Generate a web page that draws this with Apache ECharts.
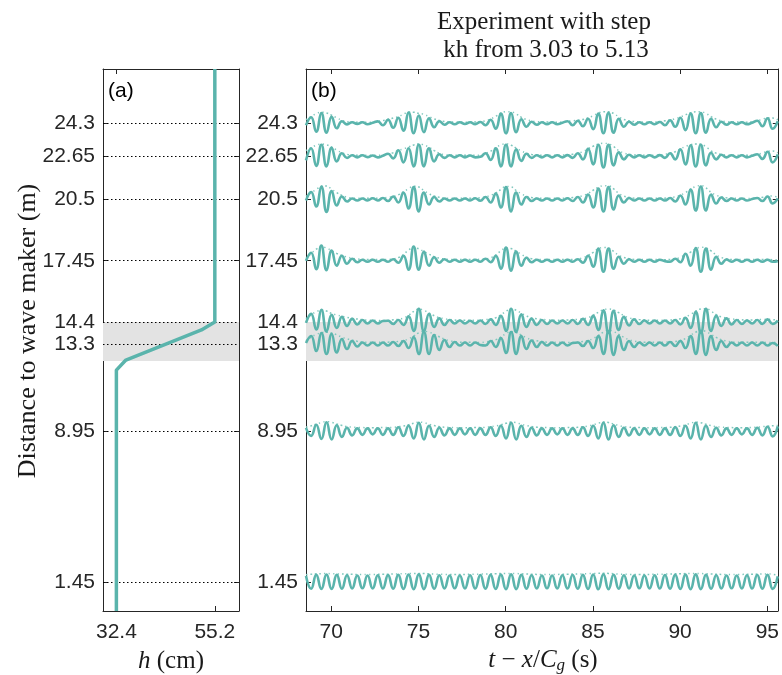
<!DOCTYPE html>
<html><head><meta charset="utf-8">
<script src="https://cdn.jsdelivr.net/npm/echarts@6/dist/echarts.min.js"></script>
<style>html,body{margin:0;padding:0;background:#fff}#c{width:782px;height:675px}</style>
</head><body><div id="c"></div>
<script>
// ---------- data ----------
const distanceTicks = [1.45, 8.95, 13.3, 14.4, 17.45, 20.5, 22.65, 24.3];
const distanceTickLabels = ['1.45', '8.95', '13.3', '14.4', '17.45', '20.5', '22.65', '24.3'];
const timeTicks = [70, 75, 80, 85, 90, 95];
const depthTicks = [32.4, 55.2];
const depthProfileH = [32.4, 32.4, 34.6, 52.1, 55.2, 55.2];   // cm
const depthProfileX = [0, 12.0, 12.5, 14.0, 14.4, 27];        // m
const stepZone = [12.45, 14.4];                                // m
const sampleStart = 68.55;   // s
const sampleStep = 0.294;    // s (half carrier period, samples at crests/troughs)
const displayScale = 0.5;    // m of vertical offset per cm of surface elevation

const eta_24_3 = [-0.2, 0.6, -0.85, 1.0, -0.95, 0.65, -0.5, 0.2, -0.12, 0.1,
 -0.08, 0.1, -0.1, 0.05, 0.18, -0.2, 0.35, -0.45, 0.55, -0.75,
 1.05, -1.0, 0.75, -0.9, 0.5, -0.4, 0.2, -0.15, 0.1, -0.1,
 0.1, -0.08, 0.1, -0.1, 0.12, -0.2, 0.35, -0.55, 0.95, -1.0,
 1.0, -0.9, 0.4, -0.35, 0.15, -0.15, 0.1, -0.1, 0.1, -0.1,
 0.05, 0.2, -0.2, 0.25, -0.3, 0.45, -0.6, 0.95, -1.0, 1.0,
 -0.95, 0.45, -0.35, 0.15, -0.15, 0.1, -0.1, 0.1, -0.1, 0.12,
 -0.2, 0.3, -0.35, 0.55, -0.7, 0.95, -1.0, 1.0, -0.95, 0.45,
 -0.4, 0.15, -0.15, 0.1, -0.1, 0.1, -0.1, 0.05, 0.25, -0.3,
 0.5, -0.55, 0.2];
const eta_22_65 = [-0.4, 0.8, -0.95, 1.15, -1.0, 0.85, -0.5, 0.3, -0.15, 0.1,
 -0.1, 0.1, -0.08, 0.08, -0.1, 0.05, 0.25, -0.2, 0.6, -0.6,
 0.8, -1.0, 1.15, -1.0, 0.8, -0.5, 0.2, -0.15, 0.1, -0.1,
 0.1, -0.1, 0.08, -0.1, -0.05, 0.3, -0.35, 0.8, -1.0, 1.15,
 -1.0, 0.7, -0.45, 0.25, -0.15, 0.1, -0.1, 0.1, -0.1, 0.1,
 -0.1, 0.12, -0.15, 0.3, -0.3, 0.75, -0.8, 1.15, -1.1, 1.15,
 -0.9, 0.4, -0.3, 0.15, -0.1, 0.1, -0.1, 0.1, -0.1, 0.12,
 -0.15, 0.3, -0.3, 0.7, -0.8, 1.1, -1.0, 1.15, -0.9, 0.35,
 -0.3, 0.15, -0.1, 0.1, -0.1, 0.1, -0.1, 0.05, 0.2, -0.25,
 0.45, -0.6, 0.2];
const eta_20_5 = [-0.1, 0.75, -0.7, 1.3, -1.25, 0.85, -0.6, 0.3, -0.2, 0.1,
 -0.1, 0.1, -0.1, 0.12, -0.1, 0.15, -0.15, 0.3, -0.3, 0.7,
 -0.9, 1.25, -1.2, 0.7, -0.5, 0.25, -0.2, 0.1, -0.1, 0.1,
 -0.1, 0.1, -0.1, 0.12, -0.12, 0.25, -0.3, 0.6, -0.8, 1.25,
 -1.2, 0.7, -0.5, 0.25, -0.15, 0.1, -0.1, 0.1, -0.1, 0.1,
 -0.1, 0.12, -0.15, 0.25, -0.3, 0.5, -0.8, 1.1, -1.2, 1.25,
 -1.0, 0.4, -0.3, 0.15, -0.1, 0.1, -0.1, 0.1, -0.1, 0.1,
 -0.1, 0.15, -0.2, 0.4, -0.5, 1.0, -1.1, 1.3, -1.1, 0.5,
 -0.4, 0.2, -0.15, 0.1, -0.1, 0.1, -0.1, 0.05, 0.15, -0.15,
 0.3, -0.4, 0.1];
const eta_17_45 = [0.0, 0.8, -0.85, 1.5, -0.95, 1.0, -0.5, 0.5, -0.3, 0.2,
 -0.15, 0.1, -0.1, 0.1, -0.1, 0.1, -0.1, 0.15, -0.2, 0.5,
 -0.9, 1.4, -0.9, 0.9, -0.5, 0.35, -0.2, 0.15, -0.1, 0.1,
 -0.1, 0.1, -0.1, 0.1, -0.1, 0.2, -0.15, 0.5, -0.8, 1.3,
 -1.0, 0.9, -0.5, 0.3, -0.15, 0.1, -0.1, 0.1, -0.1, 0.1,
 -0.1, 0.1, -0.1, 0.15, -0.2, 0.5, -0.6, 1.2, -1.1, 1.2,
 -0.8, 0.4, -0.3, 0.15, -0.1, 0.1, -0.1, 0.1, -0.1, 0.1,
 -0.05, -0.1, 0.2, -0.15, 0.7, -0.5, 1.25, -1.1, 1.2, -0.9,
 0.4, -0.3, 0.12, -0.1, 0.1, -0.1, 0.1, -0.1, 0.1, -0.1,
 0.1, -0.1, -0.05];
const eta_14_4 = [-0.1, 0.8, -0.75, 1.2, -0.95, 0.7, -0.6, 0.5, -0.4, 0.3,
 -0.25, 0.2, -0.15, 0.15, -0.15, 0.1, 0.12, -0.2, 0.2, -0.3,
 0.55, -0.9, 1.3, -0.95, 0.8, -0.5, 0.35, -0.3, 0.2, -0.15,
 0.15, -0.15, 0.12, -0.15, 0.15, -0.2, 0.25, -0.3, 0.6, -0.9,
 1.3, -1.0, 0.75, -0.5, 0.3, -0.3, 0.2, -0.2, 0.15, -0.15,
 0.15, -0.15, 0.2, -0.2, 0.3, -0.3, 0.6, -0.8, 1.15, -1.1,
 1.1, -0.8, 0.5, -0.35, 0.25, -0.2, 0.15, -0.15, 0.15, -0.15,
 0.15, -0.15, 0.2, -0.25, 0.4, -0.6, 1.0, -1.1, 1.3, -0.9,
 0.6, -0.4, 0.35, -0.25, 0.2, -0.2, 0.15, -0.15, 0.2, -0.2,
 0.25, -0.2, 0.15];
const eta_13_3 = [0.1, 0.8, -0.7, 1.1, -1.0, 1.0, -0.85, 0.5, -0.5, 0.3,
 -0.25, 0.15, -0.15, 0.15, -0.15, 0.15, -0.15, 0.2, -0.2, 0.3,
 -0.4, 0.7, -1.0, 1.2, -1.0, 0.9, -0.6, 0.4, -0.3, 0.2,
 -0.15, 0.15, -0.15, 0.15, -0.1, -0.15, 0.3, -0.3, 0.6, -0.9,
 1.2, -1.0, 0.8, -0.5, 0.35, -0.3, 0.2, -0.15, 0.15, -0.15,
 0.15, -0.15, 0.1, 0.15, -0.2, 0.3, -0.4, 0.8, -1.0, 1.3,
 -1.1, 0.8, -0.6, 0.3, -0.3, 0.15, -0.15, 0.15, -0.15, 0.15,
 -0.15, 0.2, -0.2, 0.3, -0.4, 0.8, -1.0, 1.3, -1.1, 0.8,
 -0.6, 0.3, -0.3, 0.15, -0.15, 0.15, -0.15, 0.15, -0.15, 0.15,
 -0.15, 0.1, -0.2];
const eta_8_95 = [0.35, -0.45, 0.65, -0.75, 0.9, -0.8, 0.6, -0.55, 0.35, -0.4,
 0.3, -0.35, 0.3, -0.3, 0.3, -0.35, 0.3, -0.35, 0.4, -0.45,
 0.55, -0.7, 0.85, -0.8, 0.55, -0.55, 0.35, -0.4, 0.3, -0.35,
 0.3, -0.3, 0.3, -0.35, 0.3, -0.35, 0.4, -0.45, 0.55, -0.7,
 0.85, -0.8, 0.55, -0.55, 0.35, -0.4, 0.3, -0.35, 0.3, -0.3,
 0.3, -0.35, 0.3, -0.35, 0.4, -0.45, 0.55, -0.7, 0.85, -0.8,
 0.6, -0.55, 0.35, -0.4, 0.3, -0.35, 0.3, -0.3, 0.3, -0.35,
 0.3, -0.35, 0.4, -0.45, 0.55, -0.7, 0.85, -0.8, 0.55, -0.55,
 0.35, -0.4, 0.3, -0.35, 0.3, -0.3, 0.3, -0.35, 0.35, -0.4,
 0.45, -0.5, 0.5];
const eta_1_45 = [0.6, -0.68, 0.7, -0.7, 0.74, -0.7, 0.7, -0.68, 0.66, -0.66,
 0.64, -0.64, 0.64, -0.65, 0.65, -0.66, 0.67, -0.68, 0.7, -0.7,
 0.72, -0.73, 0.75, -0.72, 0.7, -0.68, 0.66, -0.65, 0.64, -0.64,
 0.64, -0.65, 0.66, -0.66, 0.68, -0.68, 0.7, -0.71, 0.72, -0.73,
 0.75, -0.72, 0.7, -0.68, 0.66, -0.65, 0.64, -0.64, 0.64, -0.65,
 0.66, -0.66, 0.68, -0.68, 0.7, -0.71, 0.73, -0.74, 0.76, -0.73,
 0.71, -0.68, 0.66, -0.65, 0.64, -0.64, 0.64, -0.65, 0.66, -0.66,
 0.68, -0.68, 0.7, -0.71, 0.72, -0.73, 0.75, -0.72, 0.7, -0.68,
 0.66, -0.65, 0.64, -0.64, 0.64, -0.65, 0.66, -0.66, 0.68, -0.68,
 0.7, -0.7, 0.55];

const gauges = [24.3, 22.65, 20.5, 17.45, 14.4, 13.3, 8.95, 1.45];
const gaugeRecords = [eta_24_3, eta_22_65, eta_20_5, eta_17_45, eta_14_4, eta_13_3, eta_8_95, eta_1_45];

// ---------- styles ----------
const TEAL = '#5ab4ac';
const ENV = '#7fc7bd';
const FRAME = '#262626';
const SANS = 'Liberation Sans, Arial, sans-serif';
const SERIF = 'Liberation Serif, Times New Roman, serif';
const TICKFONT = 21;
const SERIFSIZE = 25;

function labelFor(v) {
  const k = distanceTicks.indexOf(v);
  return k >= 0 ? distanceTickLabels[k] : String(v);
}

function xAxisDef(gridIndex, position, min, max, ticks, showLabels) {
  return {
    type: 'value', gridIndex, position, min, max,
    axisLine: { show: true, onZero: false, lineStyle: { color: FRAME, width: 1 } },
    axisTick: { show: true, inside: true, length: 5, customValues: ticks, lineStyle: { color: FRAME } },
    axisLabel: { show: showLabels, customValues: ticks, margin: 11, color: FRAME,
      fontFamily: SANS, fontSize: TICKFONT, formatter: v => String(v) },
    splitLine: { show: false }
  };
}
function yAxisDef(gridIndex, position, showLabels) {
  return {
    type: 'value', gridIndex, position, min: 0, max: 27,
    axisLine: { show: true, onZero: false, lineStyle: { color: FRAME, width: 1 } },
    axisTick: { show: true, inside: true, length: 5, customValues: distanceTicks, lineStyle: { color: FRAME } },
    axisLabel: { show: showLabels, customValues: distanceTicks, margin: 8, color: FRAME,
      fontFamily: SANS, fontSize: TICKFONT, formatter: v => labelFor(v) },
    splitLine: { show: false }
  };
}

const series = [];
series.push({ type: 'line', xAxisIndex: 0, yAxisIndex: 0, data: [], z: 1, silent: true,
  markArea: { silent: true, itemStyle: { color: '#e3e3e3' },
    data: [[{ yAxis: stepZone[0] }, { yAxis: stepZone[1] }]] } });
series.push({ type: 'line', xAxisIndex: 0, yAxisIndex: 0, data: [], z: 2, silent: true,
  markLine: { silent: true, symbol: 'none', label: { show: false },
    lineStyle: { type: [1.5, 2.5], color: '#000', width: 1 },
    data: distanceTicks.map(v => ({ yAxis: v })) } });
series.push({ type: 'line', xAxisIndex: 0, yAxisIndex: 0, z: 5, symbol: 'none',
  data: depthProfileH.map((h, k) => [h, depthProfileX[k]]),
  lineStyle: { color: TEAL, width: 3.5 } });
series.push({ type: 'line', xAxisIndex: 2, yAxisIndex: 2, data: [], z: 1, silent: true,
  markArea: { silent: true, itemStyle: { color: '#e3e3e3' },
    data: [[{ yAxis: stepZone[0] }, { yAxis: stepZone[1] }]] } });

gauges.forEach((g, n) => {
  const eta = gaugeRecords[n];
  const t = i => sampleStart + i * sampleStep;
  series.push({ type: 'line', xAxisIndex: 2, yAxisIndex: 2, z: 3, symbol: 'none', smooth: 0.5,
    data: eta.map((v, i) => {
      const a = Math.abs(eta[Math.max(i - 1, 0)]), b = Math.abs(v), c = Math.abs(eta[Math.min(i + 1, eta.length - 1)]);
      return [t(i), g + displayScale * 1.15 * (a + 2 * b + c) / 4];
    }),
    lineStyle: { color: ENV, width: 1.5, type: [1.5, 3] } });
  series.push({ type: 'line', xAxisIndex: 2, yAxisIndex: 2, z: 4, symbol: 'none', smooth: 0.5,
    data: eta.map((v, i) => [t(i), g + displayScale * v]),
    lineStyle: { color: TEAL, width: 2.6 } });
});

const option = {
  animation: false,
  backgroundColor: '#fff',
  grid: [
    { left: 103, top: 69, width: 136, height: 542, containLabel: false },
    { left: 306, top: 69, width: 475, height: 542, containLabel: false }
  ],
  xAxis: [
    xAxisDef(0, 'bottom', 29.3, 60.8, depthTicks, true),
    xAxisDef(0, 'top', 29.3, 60.8, depthTicks, false),
    xAxisDef(1, 'bottom', 68.55, 95.6, timeTicks, true),
    xAxisDef(1, 'top', 68.55, 95.6, timeTicks, false)
  ],
  yAxis: [
    yAxisDef(0, 'left', true),
    yAxisDef(0, 'right', false),
    yAxisDef(1, 'left', true),
    yAxisDef(1, 'right', false)
  ],
  series,
  graphic: [
    { type: 'text', x: 544, y: 22, style: { text: 'Experiment with step', fontFamily: SERIF, fontSize: SERIFSIZE,
      fill: '#1a1a1a', align: 'center', verticalAlign: 'middle' } },
    { type: 'text', x: 546, y: 50, style: { text: 'kh from 3.03 to 5.13', fontFamily: SERIF, fontSize: SERIFSIZE,
      fill: '#1a1a1a', align: 'center', verticalAlign: 'middle' } },
    { type: 'text', x: 108, y: 91, style: { text: '(a)', fontFamily: SANS, fontSize: 21,
      fill: '#000', align: 'left', verticalAlign: 'middle' } },
    { type: 'text', x: 311, y: 91, style: { text: '(b)', fontFamily: SANS, fontSize: 21,
      fill: '#000', align: 'left', verticalAlign: 'middle' } },
    { type: 'text', x: 28, y: 331, rotation: Math.PI / 2, style: { text: 'Distance to wave maker (m)',
      fontFamily: SERIF, fontSize: 26, fill: '#1a1a1a', align: 'center', verticalAlign: 'middle' } },
    { type: 'text', x: 171, y: 661, style: { text: '{i|h} (cm)', fontFamily: SERIF, fontSize: SERIFSIZE,
      fill: '#1a1a1a', align: 'center', verticalAlign: 'middle',
      rich: { i: { fontFamily: SERIF, fontSize: SERIFSIZE, fontStyle: 'italic', fill: '#1a1a1a' } } } },
    { type: 'text', x: 543, y: 660, style: { text: '{i|t} − {i|x}/{i|C}{s|g} (s)', fontFamily: SERIF, fontSize: SERIFSIZE,
      fill: '#1a1a1a', align: 'center', verticalAlign: 'middle',
      rich: { i: { fontFamily: SERIF, fontSize: SERIFSIZE, fontStyle: 'italic', fill: '#1a1a1a' },
              s: { fontFamily: SERIF, fontSize: 17, fontStyle: 'italic', fill: '#1a1a1a', padding: [12, 0, 0, 0] } } } }
  ]
};
const chart = echarts.init(document.getElementById('c'));
chart.setOption(option);
</script>
</body></html>
